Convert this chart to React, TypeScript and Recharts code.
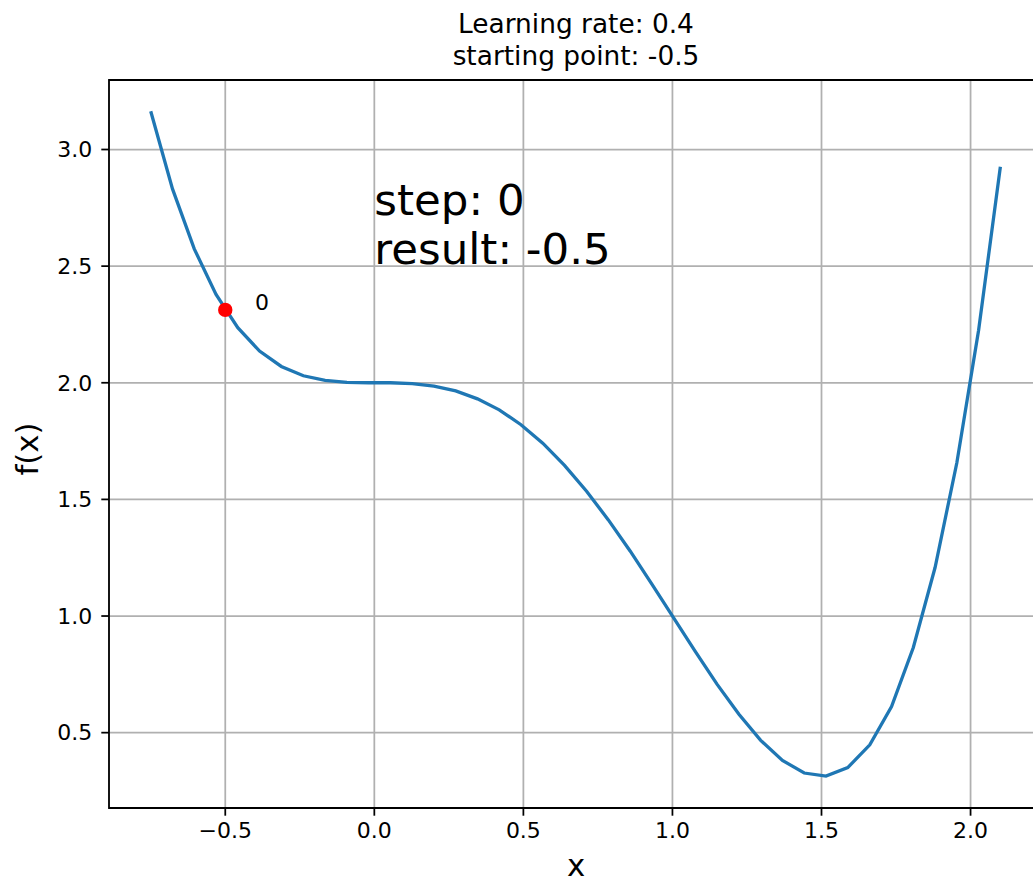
import {
  CartesianGrid,
  ComposedChart,
  Label,
  Line,
  ReferenceArea,
  ReferenceDot,
  Scatter,
  XAxis,
  YAxis,
} from 'recharts';

// curve samples
const xValues = [
  -0.75, -0.677, -0.604, -0.531, -0.458, -0.385, -0.312, -0.238, -0.165, -0.092,
  -0.019, 0.054, 0.127, 0.2, 0.273, 0.346, 0.419, 0.492, 0.565, 0.638,
  0.712, 0.785, 0.858, 0.931, 1.004, 1.077, 1.15, 1.223, 1.296, 1.369,
  1.442, 1.515, 1.588, 1.662, 1.735, 1.808, 1.881, 1.954, 2.027, 2.1,
];
const fValues = [
  3.164, 2.831, 2.574, 2.379, 2.236, 2.136, 2.07, 2.03, 2.01, 2.002,
  2.0, 2.0, 1.996, 1.986, 1.965, 1.931, 1.884, 1.82, 1.741, 1.646,
  1.535, 1.412, 1.279, 1.137, 0.992, 0.847, 0.707, 0.579, 0.467, 0.381,
  0.327, 0.314, 0.35, 0.448, 0.612, 0.865, 1.208, 1.657, 2.225, 2.926,
];

// gradient descent path (only the start so far)
const stepX = [-0.5];
const stepY = [2.3125];
const stepLabels = ['0'];
const stepLabelX = [-0.4];

const infoX = 0;
const infoY = 2.5;
const infoLines = ['step: 0', 'result: -0.5'];
const titleLines = ['Learning rate: 0.4', 'starting point: -0.5'];

const xTicks = [-0.5, 0, 0.5, 1, 1.5, 2];
const yTicks = [0.5, 1, 1.5, 2, 2.5, 3];
const xDomain = [-0.89, 2.243];
const yDomain = [0.177, 3.298];

const FONT = '"DejaVu Sans", sans-serif';

const fmt = (v: number) => (v < 0 ? '\u2212' : '') + Math.abs(v).toFixed(1);

const curve = xValues.map((x, i) => ({ x, y: fValues[i] }));
const path = stepX.map((x, i) => ({ x, y: stepY[i] }));

const tickStyle = { fontSize: 22, fontFamily: FONT, fill: '#000' };

export default function App() {
  return (
    <div
      style={{
        position: 'fixed',
        left: 0,
        top: 0,
        width: 1033,
        height: 881,
        overflow: 'hidden',
        background: '#fff',
        fontFamily: FONT,
      }}
    >
      <div
        style={{
          position: 'absolute',
          left: 0,
          top: 8,
          width: 1152,
          textAlign: 'center',
          fontSize: 26.4,
          lineHeight: '32px',
          color: '#000',
        }}
      >
        {titleLines.map((t) => (
          <div key={t}>{t}</div>
        ))}
      </div>
      <div style={{ position: 'absolute', left: 0, top: 0 }}>
        <ComposedChart
          width={1060}
          height={881}
          data={curve}
          margin={{ top: 80, right: 17, bottom: 0, left: 0 }}
        >
          <CartesianGrid stroke="#b0b0b0" strokeWidth={1.76} />
          <XAxis
            dataKey="x"
            type="number"
            domain={xDomain}
            allowDataOverflow
            ticks={xTicks}
            tickFormatter={fmt}
            height={73}
            tickSize={7.7}
            tickMargin={7}
            axisLine={false}
            tickLine={{ stroke: '#000', strokeWidth: 1.76 }}
            tick={tickStyle}
          >
            <Label
              content={({ viewBox }: any) => (
                <text
                  x={viewBox.x + viewBox.width / 2}
                  y={876}
                  textAnchor="middle"
                  fontSize={30.8}
                  fontFamily={FONT}
                  fill="#000"
                >
                  x
                </text>
              )}
            />
          </XAxis>
          <YAxis
            type="number"
            domain={yDomain}
            allowDataOverflow
            ticks={yTicks}
            tickFormatter={fmt}
            width={109}
            tickSize={7.7}
            tickMargin={9}
            axisLine={false}
            tickLine={{ stroke: '#000', strokeWidth: 1.76 }}
            tick={tickStyle}
          >
            <Label
              content={() => (
                <text
                  x={38}
                  y={449}
                  transform="rotate(-90, 38, 449)"
                  textAnchor="middle"
                  fontSize={30.8}
                  fontFamily={FONT}
                  fill="#000"
                >
                  f(x)
                </text>
              )}
            />
          </YAxis>
          <ReferenceArea
            x1={xDomain[0]}
            x2={xDomain[1]}
            y1={yDomain[0]}
            y2={yDomain[1]}
            fill="none"
            fillOpacity={0}
            stroke="#000"
            strokeWidth={1.76}
          />
          <Line
            dataKey="y"
            type="linear"
            stroke="#1f77b4"
            strokeWidth={3.3}
            dot={false}
            isAnimationActive={false}
          />
          <Scatter
            data={path}
            dataKey="y"
            isAnimationActive={false}
            shape={(p: any) => <circle cx={p.cx} cy={p.cy} r={7.2} fill="#ff0000" />}
          />
          {stepLabels.map((s, i) => (
            <ReferenceDot
              key={s}
              x={stepLabelX[i]}
              y={stepY[i]}
              r={0}
              shape={(p: any) => (
                <text x={p.cx} y={p.cy} fontSize={22} fontFamily={FONT} fill="#000">
                  {s}
                </text>
              )}
            />
          ))}
          <ReferenceDot
            x={infoX}
            y={infoY}
            r={0}
            shape={(p: any) => (
              <text x={p.cx} y={p.cy} fontSize={43.5} fontFamily={FONT} fill="#000">
                <tspan x={p.cx} dy={-51}>
                  {infoLines[0]}
                </tspan>
                <tspan x={p.cx} dy={49}>
                  {infoLines[1]}
                </tspan>
              </text>
            )}
          />
        </ComposedChart>
      </div>
    </div>
  );
}
